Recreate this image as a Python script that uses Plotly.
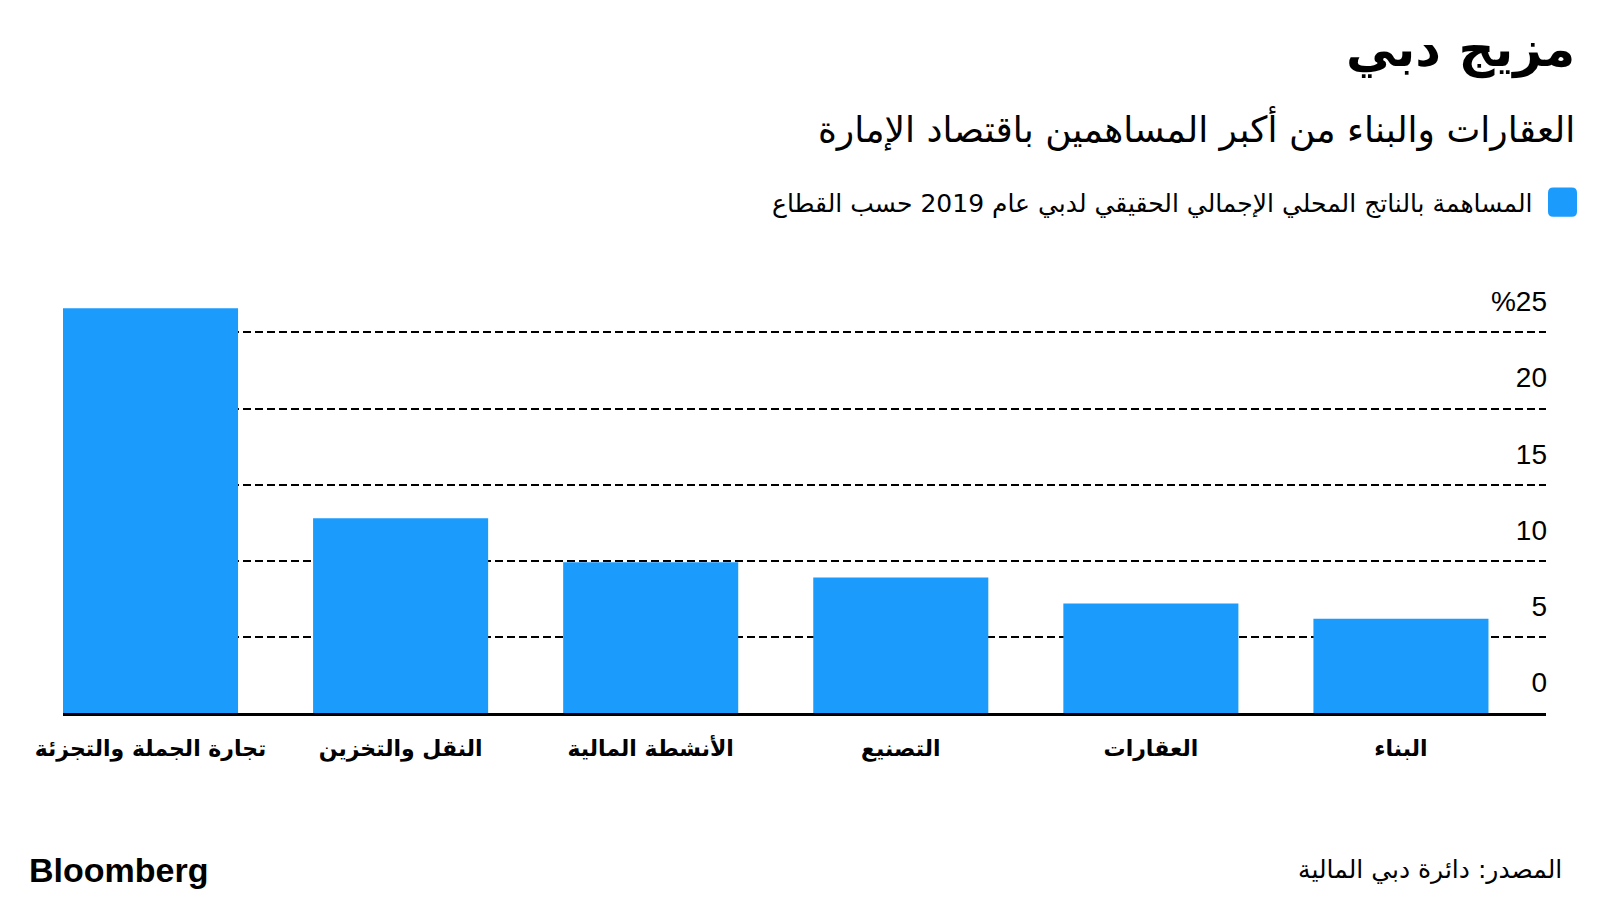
import plotly.graph_objects as go

categories = ["تجارة الجملة والتجزئة", "النقل والتخزين", "الأنشطة المالية", "التصنيع", "العقارات", "البناء"]
values = [26.6, 12.8, 9.9, 8.9, 7.2, 6.2]
tick_vals = [0, 5, 10, 15, 20, 25]
tick_text = ["0", "5", "10", "15", "20", "%25"]

title = "مزيج دبي"
subtitle = "العقارات والبناء من أكبر المساهمين باقتصاد الإمارة"
legend_text = "المساهمة بالناتج المحلي الإجمالي الحقيقي لدبي عام 2019 حسب القطاع"
source = "المصدر: دائرة دبي المالية"

BLUE = "#1b9bfc"
AR = "DejaVu Sans, Noto Sans, sans-serif"

# pixel geometry helpers
YMAX = 29.5
PX_PER_UNIT = 15.2
L, R, B = 63, 1546, 712.7
T = B - YMAX * PX_PER_UNIT
W, H = R - L, B - T
def px(x):
    return (x - L) / W
def py(y):
    return (B - y) / H

fig = go.Figure(go.Bar(x=categories, y=values, marker=dict(color=BLUE, line=dict(width=0)),
                       width=0.7, showlegend=False))

fig.update_layout(
    width=1600, height=900,
    margin=dict(l=L, r=1600 - R, t=T, b=900 - B, pad=0),
    paper_bgcolor="white", plot_bgcolor="white",
    xaxis=dict(type="category", range=[-0.35, 5.58], showgrid=False, zeroline=False,
               showline=True, linecolor="black", linewidth=2.5, ticks="",
               tickfont=dict(family=AR, size=22, color="black", weight="bold"),
               ticklabelstandoff=14),
    yaxis=dict(range=[0, YMAX], side="right", tickvals=tick_vals, ticktext=tick_text,
               showgrid=True, gridcolor="black", gridwidth=2, griddash="8px,4px",
               zeroline=False, showline=False, ticks="",
               ticklabelposition="inside", ticklabelshift=-31, ticklabelstandoff=-4,
               tickfont=dict(family="Liberation Sans, Arial, sans-serif", size=28, color="black")),
    bargap=0.3,
)

annotations = [
    dict(text=title, x=px(1577), y=py(50), xanchor="right", yanchor="middle",
         font=dict(family=AR, size=50, color="black", weight="bold")),
    dict(text=subtitle, x=px(1577), y=py(129), xanchor="right", yanchor="middle",
         font=dict(family=AR, size=36, color="black")),
    dict(text=legend_text, x=px(1535), y=py(204), xanchor="right", yanchor="middle",
         font=dict(family=AR, size=25, color="black")),
    dict(text="<b>Bloomberg</b>", x=px(27), y=py(869), xanchor="left", yanchor="middle",
         font=dict(family="Liberation Sans, Arial, sans-serif", size=34, color="black")),
    dict(text=source, x=px(1564), y=py(869), xanchor="right", yanchor="middle",
         font=dict(family=AR, size=25, color="black")),
]
for a in annotations:
    a.update(xref="paper", yref="paper", showarrow=False)
fig.update_layout(annotations=annotations)

# legend swatch (rounded square)
x0, x1, y0, y1 = px(1548), px(1577), py(217), py(188)
rx = (x1 - x0) * 0.18
ry = (y1 - y0) * 0.18
path = (f"M {x0+rx},{y0} L {x1-rx},{y0} Q {x1},{y0} {x1},{y0+ry} L {x1},{y1-ry} "
        f"Q {x1},{y1} {x1-rx},{y1} L {x0+rx},{y1} Q {x0},{y1} {x0},{y1-ry} "
        f"L {x0},{y0+ry} Q {x0},{y0} {x0+rx},{y0} Z")
fig.add_shape(type="path", path=path, xref="paper", yref="paper",
              fillcolor=BLUE, line=dict(width=0))

fig.write_html("out.html")
